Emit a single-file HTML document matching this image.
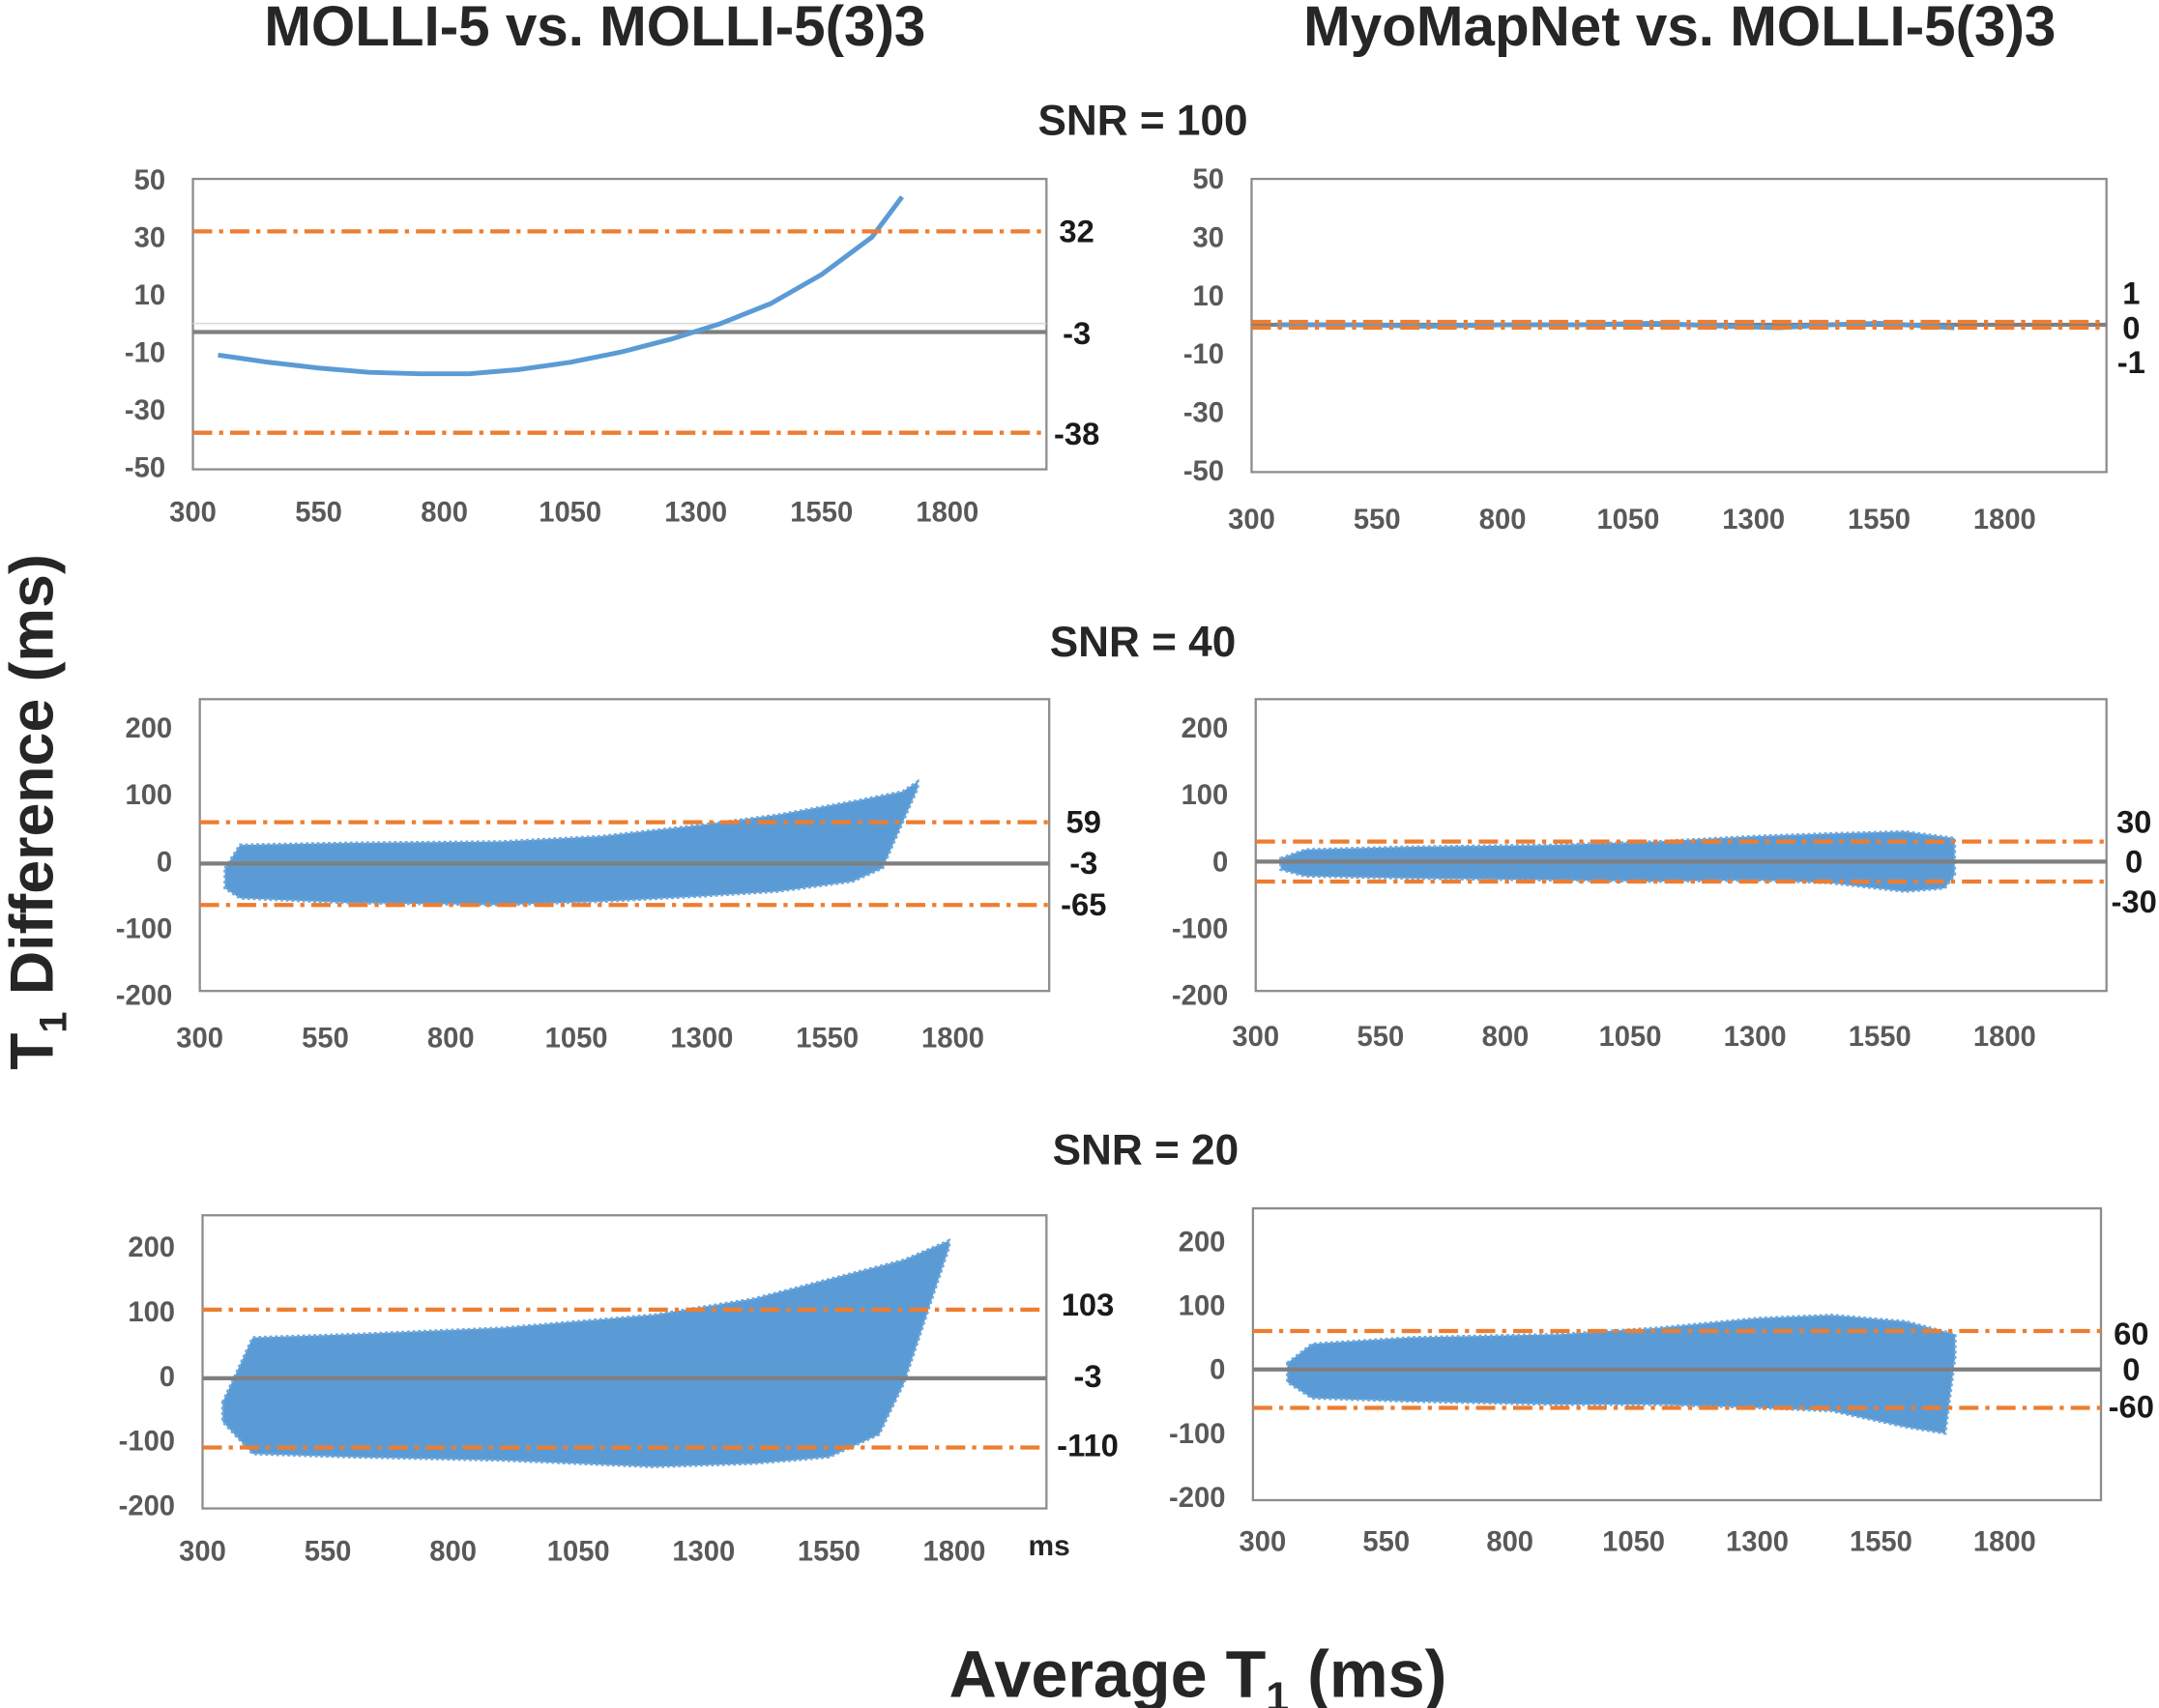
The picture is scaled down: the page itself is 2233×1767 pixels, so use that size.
<!DOCTYPE html>
<html><head><meta charset="utf-8"><style>
html,body{margin:0;padding:0;background:#fff}
svg{display:block}
text{font-family:"Liberation Sans",Arial,sans-serif}
</style></head><body>
<svg id="fig" width="2233" height="1767" viewBox="0 0 1568 1241" xmlns="http://www.w3.org/2000/svg">
<text x="432" y="33" text-anchor="middle" font-size="41" font-weight="bold" fill="#262626">MOLLI-5 vs. MOLLI-5(3)3</text>
<text x="1220" y="33" text-anchor="middle" font-size="41" font-weight="bold" fill="#262626">MyoMapNet vs. MOLLI-5(3)3</text>
<text x="830" y="98" text-anchor="middle" font-size="31" font-weight="bold" fill="#262626">SNR = 100</text>
<text x="830" y="477" text-anchor="middle" font-size="31" font-weight="bold" fill="#262626">SNR = 40</text>
<text x="832" y="846" text-anchor="middle" font-size="31" font-weight="bold" fill="#262626">SNR = 20</text>
<text transform="translate(38,590) rotate(-90)" text-anchor="middle" font-size="44" font-weight="bold" fill="#262626">T<tspan font-size="28" dy="10">1</tspan><tspan dy="-10"> Difference (ms)</tspan></text>
<text x="870" y="1233" text-anchor="middle" font-size="48" font-weight="bold" fill="#262626">Average T<tspan font-size="30" dy="10">1</tspan><tspan dy="-10"> (ms)</tspan></text>
<text x="762" y="1130" text-anchor="middle" font-size="21" font-weight="bold" fill="#262626">ms</text>
<g id="panels"></g>
</svg>
<script>
const xTicks=[300,550,800,1050,1300,1550,1800];
const yTicksSmall=[50,30,10,-10,-30,-50];
const yTicksBig=[200,100,0,-100,-200];
// Panel 1 line data
const p1X=[350,450,550,650,750,850,950,1050,1150,1250,1350,1450,1550,1650,1710];
const p1Y=[-11,-13.5,-15.5,-17,-17.5,-17.5,-16,-13.5,-10,-5.5,0,7,17,30,44];
const p1Limits=[32,-3,-38];
// Panel 2 line data
const p2X=[350,500,650,800,950,1100,1250,1350,1450,1550,1700];
const p2Y=[0,0,-0.5,0,0,0.5,-0.5,-1,0,0.5,-1];
const p2Limits=[1,0,-1];
// Panel 3 band envelopes
const p3UX=[350,380,600,900,1100,1300,1450,1600,1700,1730];
const p3U=[-10,25,28,30,38,55,70,90,105,120];
const p3LX=[350,380,600,900,1100,1300,1450,1600,1660,1730];
const p3L=[-40,-55,-62,-65,-60,-52,-45,-30,-10,110];
const p3Limits=[59,-3,-65];
// Panel 4
const p4UX=[350,400,600,900,1100,1300,1450,1600,1700];
const p4U=[5,18,22,25,30,38,42,45,35];
const p4LX=[350,400,600,900,1100,1300,1450,1600,1680,1700];
const p4L=[-12,-22,-25,-28,-30,-28,-32,-45,-40,-20];
const p4Limits=[30,0,-30];
// Panel 5
const p5UX=[340,400,600,900,1200,1400,1550,1700,1760,1790];
const p5U=[-40,60,65,75,95,120,150,180,200,210];
const p5LX=[340,400,600,900,1200,1400,1550,1650,1700,1790];
const p5L=[-70,-120,-125,-130,-140,-135,-125,-90,-10,200];
const p5Limits=[103,-3,-110];
// Panel 6
const p6UX=[350,400,600,900,1100,1300,1450,1600,1700];
const p6U=[10,40,50,55,65,80,85,75,55];
const p6LX=[350,400,600,900,1100,1300,1450,1600,1680,1700];
const p6L=[-20,-45,-50,-55,-55,-60,-65,-90,-100,20];
const p6Limits=[60,0,-60];

const NS="http://www.w3.org/2000/svg";
const root=document.getElementById('panels');
function mk(tag,attrs,parent){const e=document.createElementNS(NS,tag);for(const k in attrs)e.setAttribute(k,attrs[k]);parent.appendChild(e);return e;}

function panel(name,cfg){
  const g=mk('g',{},root);
  
  
  const sx=v=>cfg.x300+(v-300)*cfg.xs;
  const sy=v=>cfg.y0-v*cfg.ys;
  const box=mk('rect',{x:cfg.bx0,y:cfg.by0,width:cfg.bx1-cfg.bx0,height:cfg.by1-cfg.by0,fill:'none',stroke:'#8c8c8c','stroke-width':1.6},g);
  
  
  xTicks.forEach(t=>{const e=mk('text',{x:sx(t),y:cfg.xly,'text-anchor':'middle','font-size':20.5,'font-weight':'bold',fill:'#595959'},g);e.textContent=t;
    
    });
  cfg.yt.forEach(t=>{const e=mk('text',{x:cfg.bx0-20,y:sy(t)+7,'text-anchor':'end','font-size':20.5,'font-weight':'bold',fill:'#595959'},g);e.textContent=t;
    
    });
  if(cfg.line){
    if(cfg.faint){const f=mk('line',{x1:cfg.bx0,x2:cfg.bx1,y1:sy(0),y2:sy(0),stroke:'#d9d9d9','stroke-width':1},g);
      
      }
    const mean=mk('line',{x1:cfg.bx0,x2:cfg.bx1,y1:sy(cfg.lim[1]),y2:sy(cfg.lim[1]),stroke:'#7f7f7f','stroke-width':3},g);
    
    
    const pts=cfg.lx.map((v,i)=>sx(v)+','+sy(cfg.ly[i])).join(' ');
    const pl=mk('polyline',{points:pts,fill:'none',stroke:'#5b9bd5','stroke-width':3.5,'stroke-linejoin':'round'},g);
    
    
  } else {
    const up=cfg.ux.map((v,i)=>sx(v)+','+sy(cfg.u[i]));
    const lo=cfg.lx.map((v,i)=>sx(v)+','+sy(cfg.l[i])).reverse();
    const poly=mk('polygon',{points:up.concat(lo).join(' '),fill:'#5b9bd5',stroke:'#6fa8dc','stroke-width':2,'stroke-dasharray':'2 2'},g);
    
    
    const mean=mk('line',{x1:cfg.bx0,x2:cfg.bx1,y1:sy(cfg.lim[1]),y2:sy(cfg.lim[1]),stroke:'#7f7f7f','stroke-width':3},g);
    
    
  }
  [0,2].forEach(i=>{const l=mk('line',{x1:cfg.bx0,x2:cfg.bx1,y1:sy(cfg.lim[i]),y2:sy(cfg.lim[i]),stroke:'#ed7d31','stroke-width':3,'stroke-dasharray':'14 5 3 5'},g);
    
    });
  cfg.lim.forEach((v,i)=>{const yy=cfg.labY?cfg.labY[i]:sy(v);const e=mk('text',{x:cfg.labX,y:yy+8,'text-anchor':'middle','font-size':23,'font-weight':'bold',fill:'#1a1a1a'},g);e.textContent=v;
    
    });
}
const s1=(688-140)/1500;
panel('panel-molli5-snr100',{bx0:140,bx1:760,by0:130,by1:341,x300:140,xs:s1,y0:235,ys:2.09,xly:379,yt:yTicksSmall,line:true,faint:true,lx:p1X,ly:p1Y,lim:p1Limits,labX:782,labY:[168,242,315]});
const s2=(1456-909)/1500;
panel('panel-myomapnet-snr100',{bx0:909,bx1:1530,by0:130,by1:343,x300:909,xs:s2,y0:236,ys:2.12,xly:384,yt:yTicksSmall,line:true,lx:p2X,ly:p2Y,lim:p2Limits,labX:1548,labY:[213,238,263]});
const s3=(692-145)/1500;
panel('panel-molli5-snr40',{bx0:145,bx1:762,by0:508,by1:720,x300:145,xs:s3,y0:626,ys:0.485,xly:761,yt:yTicksBig,ux:p3UX,u:p3U,lx:p3LX,l:p3L,lim:p3Limits,labX:787,labY:[597,627,657]});
const s4=(1456-912)/1500;
panel('panel-myomapnet-snr40',{bx0:912,bx1:1530,by0:508,by1:720,x300:912,xs:s4,y0:626,ys:0.485,xly:760,yt:yTicksBig,ux:p4UX,u:p4U,lx:p4LX,l:p4L,lim:p4Limits,labX:1550,labY:[597,626,655]});
const s5=(693-147)/1500;
panel('panel-molli5-snr20',{bx0:147,bx1:760,by0:883,by1:1096,x300:147,xs:s5,y0:1000,ys:0.47,xly:1134,yt:yTicksBig,ux:p5UX,u:p5U,lx:p5LX,l:p5L,lim:p5Limits,labX:790,labY:[948,1000,1050]});
const s6=(1456-917)/1500;
panel('panel-myomapnet-snr20',{bx0:910,bx1:1526,by0:878,by1:1090,x300:917,xs:s6,y0:995,ys:0.465,xly:1127,yt:yTicksBig,ux:p6UX,u:p6U,lx:p6LX,l:p6L,lim:p6Limits,labX:1548,labY:[969,995,1022]});
</script>
</body></html>
